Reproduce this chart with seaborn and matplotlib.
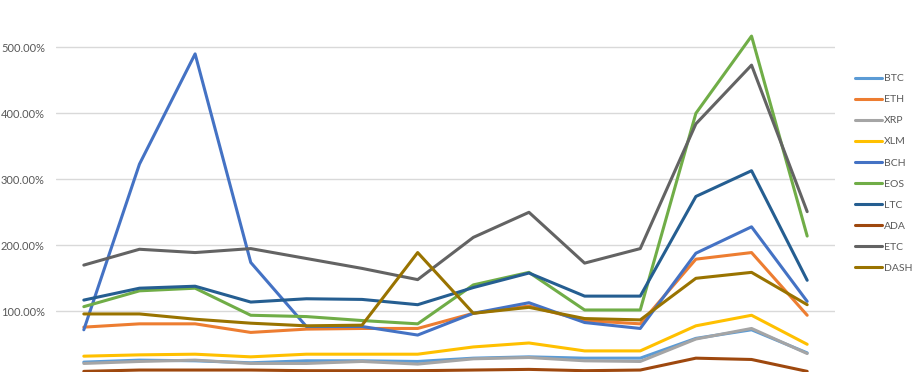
import pandas as pd
import matplotlib
matplotlib.use("Agg")
import matplotlib.pyplot as plt
import seaborn as sns
from matplotlib.ticker import FuncFormatter

# values in percent (14 periods)
periods = list(range(1, 15))
coins = ["BTC", "ETH", "XRP", "XLM", "BCH", "EOS", "LTC", "ADA", "ETC", "DASH"]
colors = ["#5B9BD5", "#ED7D31", "#A5A5A5", "#FFC000", "#4472C4",
          "#70AD47", "#255E91", "#9E480E", "#636363", "#997300"]

btc = [23, 26, 25, 22, 25, 25, 24, 29, 31, 29, 29, 59, 72, 37]
eth = [76, 81, 81, 68, 73, 74, 74, 97, 108, 86, 81, 179, 189, 94]
xrp = [21, 24, 26, 21, 21, 24, 20, 28, 30, 25, 24, 58, 74, 36]
xlm = [32, 34, 35, 31, 35, 35, 35, 46, 52, 40, 40, 78, 94, 50]
bch = [72, 323, 490, 174, 77, 77, 64, 97, 113, 83, 74, 188, 228, 115]
eos = [107, 131, 135, 94, 92, 86, 81, 140, 159, 102, 102, 400, 517, 214]
ltc = [117, 135, 138, 114, 119, 118, 110, 136, 158, 123, 123, 274, 313, 147]
ada = [9, 11, 11, 11, 10, 10, 10, 11, 12, 10, 11, 29, 27, 9]
etc = [170, 194, 189, 195, 180, 165, 148, 212, 250, 173, 195, 384, 473, 251]
dash = [96, 96, 88, 82, 78, 79, 189, 97, 106, 89, 87, 150, 159, 110]

series = [btc, eth, xrp, xlm, bch, eos, ltc, ada, etc, dash]
rows = []
for coin, vals in zip(coins, series):
    for p, v in zip(periods, vals):
        rows.append({"period": p, "coin": coin, "value": v})
df = pd.DataFrame(rows)

sns.set_style("white")
plt.rcParams["font.family"] = ["Lato", "DejaVu Sans"]
fig = plt.figure(figsize=(9.23, 3.72), dpi=100)
# axes run a bit past the bottom edge so the 0% line sits just off the picture
ax = fig.add_axes([56 / 923, -5.3 / 372, 779 / 923, 396 / 372])

sns.lineplot(data=df, x="period", y="value", hue="coin", hue_order=coins,
             palette=colors, linewidth=2.2, ax=ax, legend=True)

ax.set_xlim(0.5, 14.5)
ax.set_ylim(0, 600)
ax.set_yticks(range(0, 600, 100))
ax.yaxis.set_major_formatter(FuncFormatter(lambda v, _: f"{v:.2f}%"))
ax.tick_params(axis="y", labelsize=8, labelcolor="#595959", length=0, pad=8)
ax.set_xticks([])
ax.set_xlabel("")
ax.set_ylabel("")
ax.grid(axis="y", color="#D9D9D9", linewidth=1)
ax.set_axisbelow(True)
for s in ax.spines.values():
    s.set_visible(False)

handles, labels = ax.get_legend_handles_labels()
ax.legend_.remove()
fig.legend(handles, labels, loc="upper left", bbox_to_anchor=(855 / 923, 1 - 74 / 372),
           frameon=False, fontsize=7.5, handlelength=2.6, handletextpad=0.2,
           labelspacing=1.13, borderpad=0, borderaxespad=0, labelcolor="#595959")

fig.savefig("out.png", dpi=100)
